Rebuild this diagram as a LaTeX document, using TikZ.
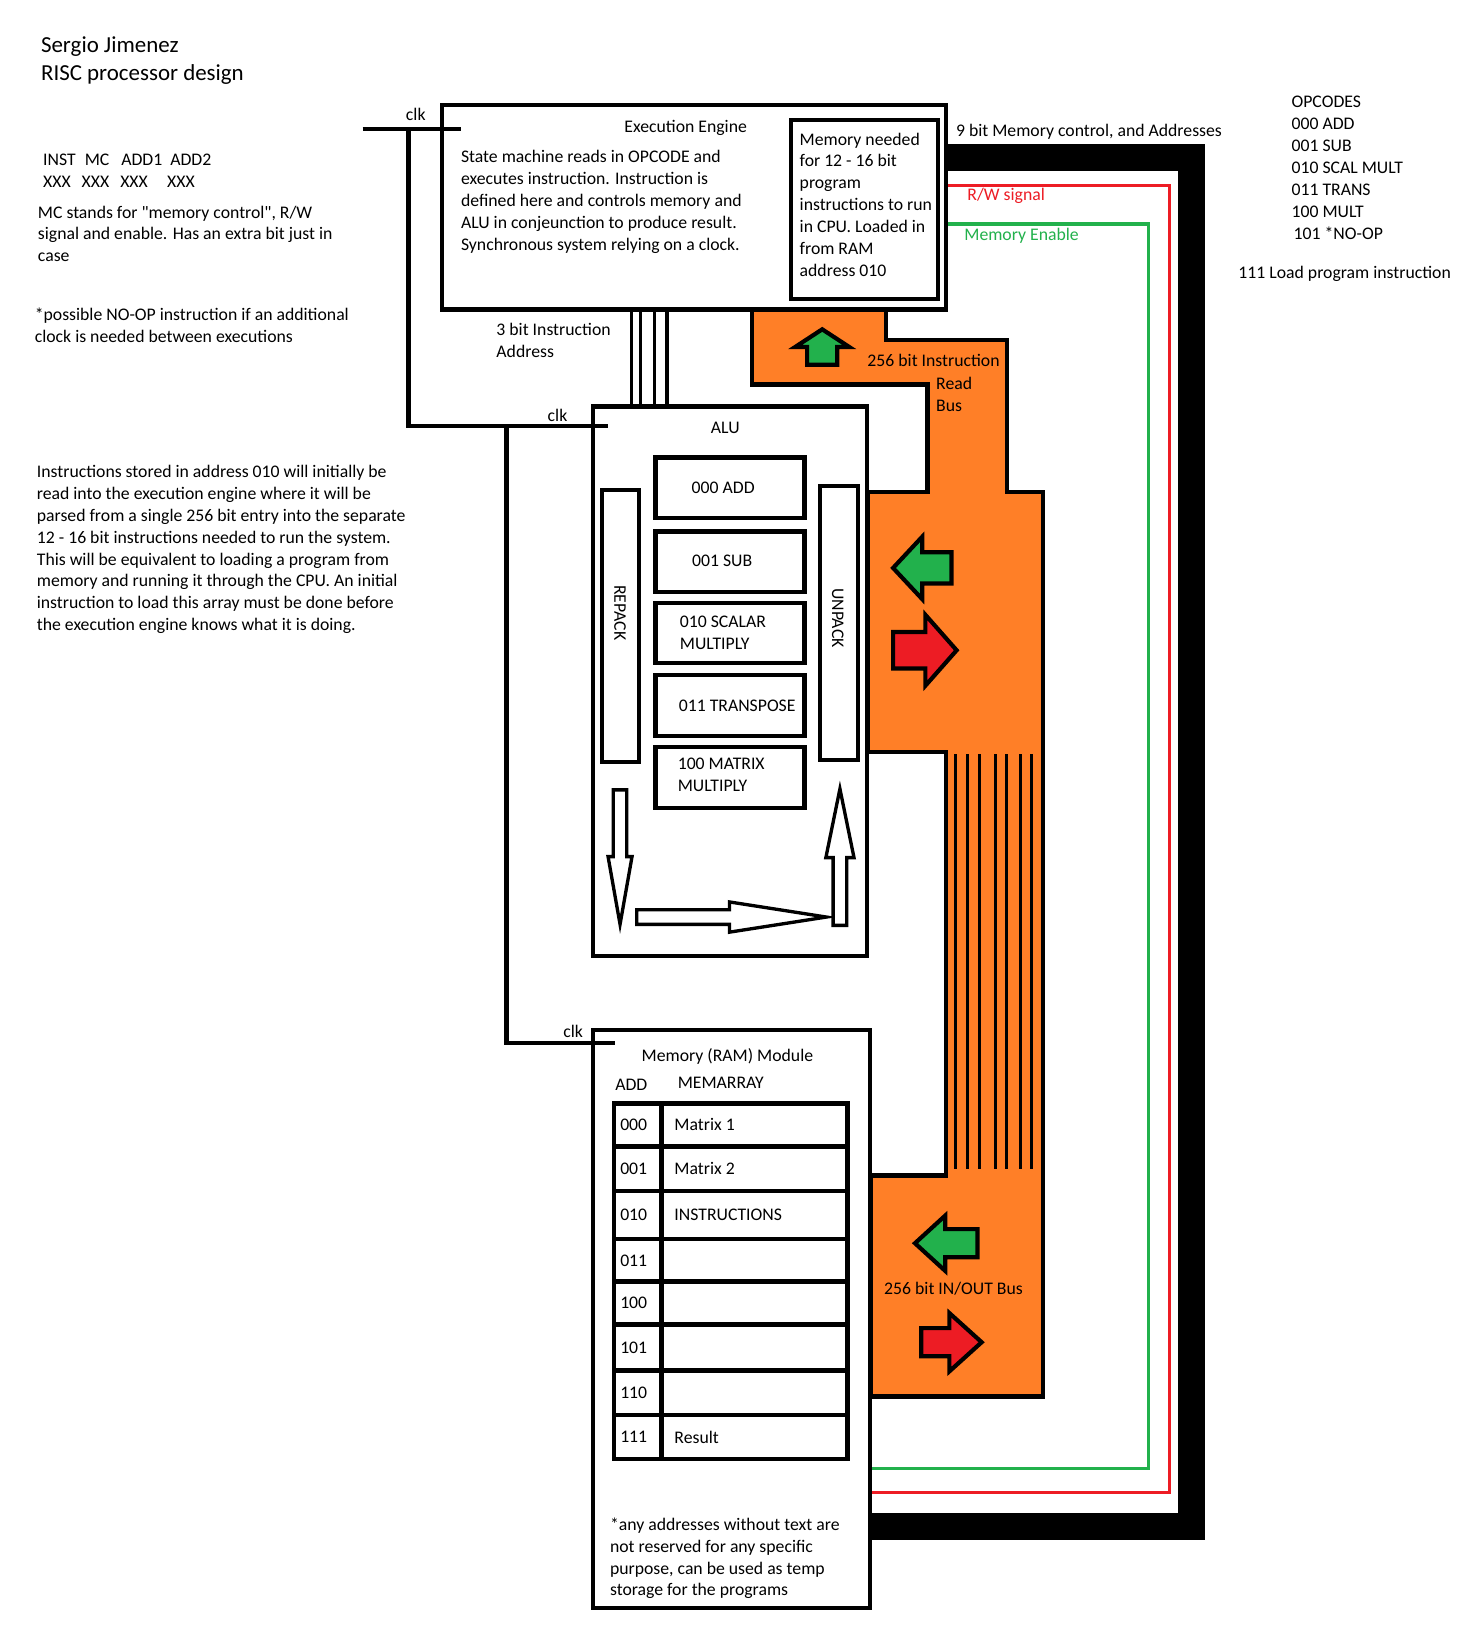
\documentclass[tikz,border=0pt]{standalone}
\usepackage{fontspec}
\setmainfont{Carlito}[Ligatures=TeXOff]
\usetikzlibrary{calc, fit}

\definecolor{busorange}{RGB}{255,127,39}
\definecolor{sigred}{RGB}{237,28,36}
\definecolor{siggreen}{RGB}{34,177,76}

\tikzset{
  box/.style={draw, line width=2pt, inner sep=0pt},
  cell/.style={draw, line width=2.2pt, inner sep=0pt},
  txt/.style={inner sep=0pt, font=\fontsize{8.5}{10.5}\selectfont},
  para/.style={txt, align=left, anchor=north west},
  wire/.style={line width=2pt},
  thinwire/.style={line width=1.5pt},
  pics/fatarrow/.style args={#1/#2/#3/#4/#5}{code={
    \draw[line join=miter, fill=#1] (0,0) -- (#3,-#4) -- (#3,-#5) -- (#2,-#5)
      -- (#2,#5) -- (#3,#5) -- (#3,#4) -- cycle;}},
}

\begin{document}
\begin{tikzpicture}[x=0.5pt, y=-0.5pt]
  \useasboundingbox[fill=white] (0,0) rectangle (1424,1568);

  % notes on the left
  \node[para, font=\fontsize{11}{13.5}\selectfont] (title) at (39,35)
    {Sergio Jimenez\\RISC processor design};
  \foreach \x/\w [count=\i] in {41/INST, 81/MC, 116/ADD1, 163/ADD2}
    \node[txt, anchor=west] (fmthead\i) at (\x,153) {\w};
  \foreach \x [count=\i] in {41, 78, 115, 160}
    \node[txt, anchor=west] (fmtbits\i) at (\x,174) {XXX};
  \node[para] (mcnote) at (36,197)
    {MC stands for "memory control", R/W\\signal and enable. Has an extra bit just in\\case};
  \node[para] (noopnote) at (33,295)
    {*possible NO-OP instruction if an additional\\clock is needed between executions};
  \node[para] (loadnote) at (35,446)
    {Instructions stored in address 010 will initially be\\read into the execution engine where it will be\\parsed from a single 256 bit entry into the separate\\12 - 16 bit instructions needed to run the system.\\This will be equivalent to loading a program from\\memory and running it through the CPU. An initial\\instruction to load this array must be done before\\the execution engine knows what it is doing.};

  % opcode list
  \node[para] (opcodes) at (1239,92)
    {OPCODES\\000 ADD\\001 SUB\\010 SCAL MULT\\011 TRANS\\100 MULT\\\hspace{1pt}101 *NO-OP};
  \node[txt, anchor=west] (loadop) at (1188,263) {111 Load program instruction};

  % 9 bit memory control bus and signals
  \draw[line width=13pt] (908,151) -| (1143,1465) -- (835,1465);
  \draw[sigred, line width=1.6pt] (908,178) -| (1122,1432) -- (836,1432);
  \draw[siggreen, line width=1.6pt] (908,215) -| (1102,1409) -- (836,1409);
  \node[txt, anchor=west] (mclabel) at (917,126) {9 bit Memory control, and Addresses};
  \node[txt, anchor=west, text=sigred] (rwlabel) at (928,188) {R/W signal};
  \node[txt, anchor=west, text=siggreen] (enlabel) at (925,226) {Memory Enable};

  % orange 256 bit buses
  \draw[line width=2pt, fill=busorange, line join=miter]
    (722,297) -- (850,297) -- (850,326) -- (966,326) -- (966,472) -- (1001,472)
    -- (1001,1340) -- (836,1340) -- (836,1128) -- (908,1128) -- (908,722)
    -- (833,722) -- (833,472) -- (890,472) -- (890,369) -- (722,369) -- cycle;
  \foreach \x in {917, 928, 940, 955, 966, 979, 990}
    \draw[thinwire] (\x,724) -- (\x,1122);
  \pic[line width=2pt, rotate=-90] at (789,316) {fatarrow=siggreen/34/17/26/14.5};
  \pic[line width=2pt] at (857,545) {fatarrow=siggreen/56/28/30/15};
  \pic[line width=2pt, rotate=180] at (918,624) {fatarrow=sigred/61/30/34/17.5};
  \pic[line width=2pt] at (878,1193) {fatarrow=siggreen/60/29/26.5/13.5};
  \pic[line width=2pt, rotate=180] at (942,1288) {fatarrow=sigred/58/31/28/13.5};
  \node[txt, anchor=west] (irbus) at (832,346) {256 bit Instruction};
  \node[para] (irbus2) at (898,362) {Read\\Bus};
  \node[txt] (iobus) at (915,1237) {256 bit IN/OUT Bus};

  % execution engine
  \node[box, fit={(424,101) (908,297)}] (ee) {};
  \node[box, fit={(759,115) (900,287)}] (memneed) {};
  \node[txt] (eetitle) at (658,123) {Execution Engine};
  \node[para] (eebody) at (442,144)
    {State machine reads in OPCODE and\\executes instruction. Instruction is\\defined here and controls memory and\\ALU in conjeunction to produce result.\\Synchronous system relying on a clock.};
  \node[para] (memneedtxt) at (767,127)
    {Memory needed\\for 12 - 16 bit\\program\\instructions to run\\in CPU. Loaded in\\from RAM\\address 010};

  % ALU
  \node[box, fit={(569,390) (832,917)}] (alu) {};
  \node[txt] (alutitle) at (696,411) {ALU};
  \foreach \t/\b [count=\i] in {439/497, 510/568, 579/636, 648/706, 717/775}
    \node[box, fit={(629,\t) (772,\b)}] (op\i) {};
  \node[txt] (op1txt) at (694,468) {000 ADD};
  \node[txt] (op2txt) at (693,538) {001 SUB};
  \node[para] (op3txt) at (652,591) {010 SCALAR\\MULTIPLY};
  \node[txt, anchor=west] (op4txt) at (651,677) {011 TRANSPOSE};
  \node[para] (op5txt) at (650,727) {100 MATRIX\\MULTIPLY};
  \node[box, fit={(578,470) (613,731)}] (repack) {};
  \node[box, fit={(787,466) (823,729)}] (unpack) {};
  \node[txt, rotate=-90] (repacktxt) at (595,588) {REPACK};
  \node[txt, rotate=-90] (unpacktxt) at (804,593) {UNPACK};
  \pic[line width=1.6pt, rotate=90] at (595,887) {fatarrow=white/129/65/11.5/6.5};
  \pic[line width=1.6pt, rotate=180] at (793,880) {fatarrow=white/182/93/14.5/7};
  \pic[line width=1.6pt, rotate=-90] at (806,757) {fatarrow=white/131/66/13.5/6.5};

  % 3 bit instruction address
  \foreach \x in {606, 615, 628, 640}
    \draw[thinwire] (\x,0 |- ee.south) -- (\x,0 |- alu.north);
  \node[para] (addrlabel) at (476,310) {3 bit Instruction\\Address};

  % memory module
  \node[box, fit={(569,988) (835,1543)}] (mem) {};
  \node[txt] (memtitle) at (698,1014) {Memory (RAM) Module};
  \node[txt, anchor=west] (addhead) at (590,1041) {ADD};
  \node[txt, anchor=west] (arrhead) at (650,1039) {MEMARRAY};
  \foreach \a/\c/\t/\b [count=\i] in {000/Matrix 1/1059/1100, 001/Matrix 2/1100/1143,
      010/INSTRUCTIONS/1143/1189, 011//1189/1230, 100//1230/1271, 101//1271/1315,
      110//1315/1358, 111/Result/1358/1400} {
    \node[cell, fit={(589,\t) (635,\b)}] (addr\i) {};
    \node[cell, fit={(635,\t) (813,\b)}] (word\i) {};
    \node[txt, anchor=west] (addrtxt\i) at ($(addr\i.west)+(8,0)$) {\a};
    \node[txt, anchor=west] (wordtxt\i) at ($(word\i.west)+(14,0)$) {\c};
  }
  \node[para] (memnote) at (585,1456)
    {*any addresses without text are\\not reserved for any specific\\purpose, can be used as temp\\storage for the programs};

  % clock lines
  \coordinate (clkin) at (348,124);
  \coordinate (clkbus) at (392,124);
  \coordinate (clksplit) at (486,411);
  \draw[wire] (clkin) -- ($(ee.west |- clkin)+(20,0)$);
  \draw[wire] (clkbus) |- ($(alu.north west)+(16,21)$);
  \draw[wire] (clksplit) |- ($(mem.north west)+(23,15)$);
  \node[txt] (clk1) at (399,110) {clk};
  \node[txt] (clk2) at (535,399) {clk};
  \node[txt] (clk3) at (550,990) {clk};
\end{tikzpicture}
\end{document}
